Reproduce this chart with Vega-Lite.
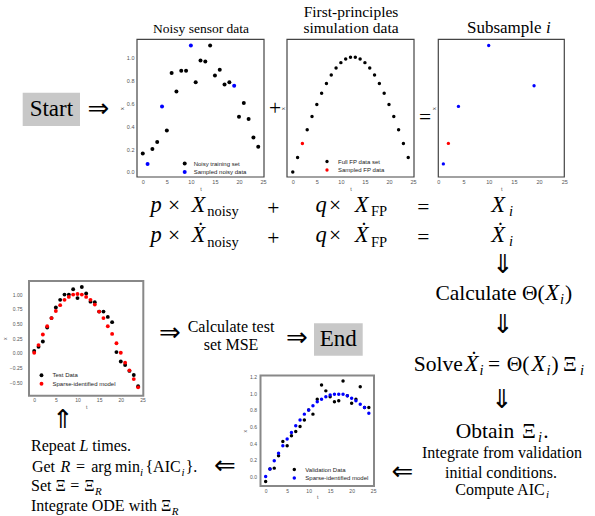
{
  "$schema": "https://vega.github.io/schema/vega-lite/v6.json",
  "width": 595,
  "height": 516,
  "padding": 0,
  "autosize": "none",
  "background": "white",
  "config": {
    "view": {"stroke": null},
    "axis": {"grid": false, "ticks": false, "domain": false, "labelFont": "Liberation Sans", "labelColor": "#555", "titleFont": "Liberation Sans", "titleFontWeight": "normal", "titleColor": "#555", "labelFlush": false, "labelOverlap": false},
    "legend": {"title": null, "labelFont": "Liberation Sans", "labelFontSize": 6, "labelColor": "#222", "symbolType": "circle", "symbolStrokeWidth": 0, "padding": 0, "rowPadding": 2.5, "labelOffset": 6, "orient": "none"}
  },
  "datasets": {
    "noisy": [
      {"t": 0, "x": 0.16, "series": "Noisy training set"},
      {"t": 1, "x": 0.07, "series": "Sampled noisy data"},
      {"t": 2, "x": 0.20, "series": "Noisy training set"},
      {"t": 3, "x": 0.26, "series": "Noisy training set"},
      {"t": 4, "x": 0.57, "series": "Sampled noisy data"},
      {"t": 5, "x": 0.36, "series": "Noisy training set"},
      {"t": 6, "x": 0.86, "series": "Noisy training set"},
      {"t": 7, "x": 0.70, "series": "Noisy training set"},
      {"t": 8, "x": 0.88, "series": "Noisy training set"},
      {"t": 9, "x": 0.88, "series": "Noisy training set"},
      {"t": 10, "x": 1.10, "series": "Sampled noisy data"},
      {"t": 11, "x": 0.78, "series": "Noisy training set"},
      {"t": 12, "x": 0.97, "series": "Noisy training set"},
      {"t": 13, "x": 0.96, "series": "Noisy training set"},
      {"t": 14, "x": 1.10, "series": "Noisy training set"},
      {"t": 15, "x": 0.84, "series": "Noisy training set"},
      {"t": 16, "x": 0.89, "series": "Noisy training set"},
      {"t": 17, "x": 0.76, "series": "Noisy training set"},
      {"t": 18, "x": 0.78, "series": "Noisy training set"},
      {"t": 19, "x": 0.75, "series": "Sampled noisy data"},
      {"t": 20, "x": 0.48, "series": "Noisy training set"},
      {"t": 21, "x": 0.60, "series": "Noisy training set"},
      {"t": 22, "x": 0.46, "series": "Noisy training set"},
      {"t": 23, "x": 0.30, "series": "Noisy training set"},
      {"t": 24, "x": 0.22, "series": "Noisy training set"}
    ],
    "fp": [
      {"t": 0, "x": 0.0, "series": "Full FP data set"},
      {"t": 1, "x": 0.1253, "series": "Full FP data set"},
      {"t": 2, "x": 0.2487, "series": "Sampled FP data"},
      {"t": 3, "x": 0.3681, "series": "Full FP data set"},
      {"t": 4, "x": 0.4818, "series": "Full FP data set"},
      {"t": 5, "x": 0.5878, "series": "Full FP data set"},
      {"t": 6, "x": 0.6845, "series": "Full FP data set"},
      {"t": 7, "x": 0.7705, "series": "Full FP data set"},
      {"t": 8, "x": 0.8443, "series": "Full FP data set"},
      {"t": 9, "x": 0.9048, "series": "Full FP data set"},
      {"t": 10, "x": 0.9511, "series": "Full FP data set"},
      {"t": 11, "x": 0.9823, "series": "Full FP data set"},
      {"t": 12, "x": 0.998, "series": "Full FP data set"},
      {"t": 13, "x": 0.998, "series": "Full FP data set"},
      {"t": 14, "x": 0.9823, "series": "Full FP data set"},
      {"t": 15, "x": 0.9511, "series": "Full FP data set"},
      {"t": 16, "x": 0.9048, "series": "Full FP data set"},
      {"t": 17, "x": 0.8443, "series": "Full FP data set"},
      {"t": 18, "x": 0.7705, "series": "Full FP data set"},
      {"t": 19, "x": 0.6845, "series": "Full FP data set"},
      {"t": 20, "x": 0.5878, "series": "Full FP data set"},
      {"t": 21, "x": 0.4818, "series": "Full FP data set"},
      {"t": 22, "x": 0.3681, "series": "Full FP data set"},
      {"t": 23, "x": 0.2487, "series": "Full FP data set"},
      {"t": 24, "x": 0.1253, "series": "Full FP data set"}
    ],
    "sub": [
      {"t": 1, "x": 0.07, "series": "noisy"},
      {"t": 2, "x": 0.2487, "series": "fp"},
      {"t": 4, "x": 0.57, "series": "noisy"},
      {"t": 10, "x": 1.10, "series": "noisy"},
      {"t": 19, "x": 0.75, "series": "noisy"}
    ],
    "test": [
      {"t": 0, "x": 0.03, "series": "Test Data"},
      {"t": 1, "x": 0.10, "series": "Test Data"},
      {"t": 2, "x": 0.19, "series": "Test Data"},
      {"t": 3, "x": 0.43, "series": "Test Data"},
      {"t": 4, "x": 0.59, "series": "Test Data"},
      {"t": 5, "x": 0.77, "series": "Test Data"},
      {"t": 6, "x": 0.90, "series": "Test Data"},
      {"t": 7, "x": 0.99, "series": "Test Data"},
      {"t": 8, "x": 0.99, "series": "Test Data"},
      {"t": 9, "x": 1.08, "series": "Test Data"},
      {"t": 10, "x": 0.93, "series": "Test Data"},
      {"t": 11, "x": 1.12, "series": "Test Data"},
      {"t": 12, "x": 1.01, "series": "Test Data"},
      {"t": 13, "x": 0.87, "series": "Test Data"},
      {"t": 14, "x": 0.86, "series": "Test Data"},
      {"t": 15, "x": 0.70, "series": "Test Data"},
      {"t": 16, "x": 0.70, "series": "Test Data"},
      {"t": 17, "x": 0.61, "series": "Test Data"},
      {"t": 18, "x": 0.52, "series": "Test Data"},
      {"t": 19, "x": 0.01, "series": "Test Data"},
      {"t": 20, "x": -0.15, "series": "Test Data"},
      {"t": 21, "x": -0.21, "series": "Test Data"},
      {"t": 22, "x": -0.31, "series": "Test Data"},
      {"t": 23, "x": -0.38, "series": "Test Data"},
      {"t": 24, "x": -0.57, "series": "Test Data"},
      {"t": 0, "x": 0.00, "series": "Sparse-identified model"},
      {"t": 1, "x": 0.13, "series": "Sparse-identified model"},
      {"t": 2, "x": 0.31, "series": "Sparse-identified model"},
      {"t": 3, "x": 0.45, "series": "Sparse-identified model"},
      {"t": 4, "x": 0.59, "series": "Sparse-identified model"},
      {"t": 5, "x": 0.71, "series": "Sparse-identified model"},
      {"t": 6, "x": 0.81, "series": "Sparse-identified model"},
      {"t": 7, "x": 0.90, "series": "Sparse-identified model"},
      {"t": 8, "x": 0.95, "series": "Sparse-identified model"},
      {"t": 9, "x": 0.99, "series": "Sparse-identified model"},
      {"t": 10, "x": 1.00, "series": "Sparse-identified model"},
      {"t": 11, "x": 0.99, "series": "Sparse-identified model"},
      {"t": 12, "x": 0.95, "series": "Sparse-identified model"},
      {"t": 13, "x": 0.90, "series": "Sparse-identified model"},
      {"t": 14, "x": 0.82, "series": "Sparse-identified model"},
      {"t": 15, "x": 0.70, "series": "Sparse-identified model"},
      {"t": 16, "x": 0.59, "series": "Sparse-identified model"},
      {"t": 17, "x": 0.45, "series": "Sparse-identified model"},
      {"t": 18, "x": 0.32, "series": "Sparse-identified model"},
      {"t": 19, "x": 0.16, "series": "Sparse-identified model"},
      {"t": 20, "x": 0.00, "series": "Sparse-identified model"},
      {"t": 21, "x": -0.17, "series": "Sparse-identified model"},
      {"t": 22, "x": -0.30, "series": "Sparse-identified model"},
      {"t": 23, "x": -0.45, "series": "Sparse-identified model"},
      {"t": 24, "x": -0.59, "series": "Sparse-identified model"}
    ],
    "validation": [
      {"t": 0, "x": -0.06, "series": "Validation Data"},
      {"t": 1, "x": 0.09, "series": "Validation Data"},
      {"t": 2, "x": 0.10, "series": "Validation Data"},
      {"t": 3, "x": 0.25, "series": "Validation Data"},
      {"t": 4, "x": 0.42, "series": "Validation Data"},
      {"t": 5, "x": 0.37, "series": "Validation Data"},
      {"t": 6, "x": 0.49, "series": "Validation Data"},
      {"t": 7, "x": 0.54, "series": "Validation Data"},
      {"t": 8, "x": 0.60, "series": "Validation Data"},
      {"t": 9, "x": 0.68, "series": "Validation Data"},
      {"t": 10, "x": 0.80, "series": "Validation Data"},
      {"t": 11, "x": 0.75, "series": "Validation Data"},
      {"t": 12, "x": 0.93, "series": "Validation Data"},
      {"t": 13, "x": 1.10, "series": "Validation Data"},
      {"t": 14, "x": 1.03, "series": "Validation Data"},
      {"t": 15, "x": 0.96, "series": "Validation Data"},
      {"t": 16, "x": 0.90, "series": "Validation Data"},
      {"t": 17, "x": 0.91, "series": "Validation Data"},
      {"t": 18, "x": 1.15, "series": "Validation Data"},
      {"t": 19, "x": 0.97, "series": "Validation Data"},
      {"t": 20, "x": 0.88, "series": "Validation Data"},
      {"t": 21, "x": 0.93, "series": "Validation Data"},
      {"t": 22, "x": 1.08, "series": "Validation Data"},
      {"t": 23, "x": 0.83, "series": "Validation Data"},
      {"t": 24, "x": 0.83, "series": "Validation Data"},
      {"t": 0, "x": 0.00, "series": "Sparse-identified model"},
      {"t": 1, "x": 0.09, "series": "Sparse-identified model"},
      {"t": 2, "x": 0.19, "series": "Sparse-identified model"},
      {"t": 3, "x": 0.28, "series": "Sparse-identified model"},
      {"t": 4, "x": 0.37, "series": "Sparse-identified model"},
      {"t": 5, "x": 0.45, "series": "Sparse-identified model"},
      {"t": 6, "x": 0.53, "series": "Sparse-identified model"},
      {"t": 7, "x": 0.61, "series": "Sparse-identified model"},
      {"t": 8, "x": 0.68, "series": "Sparse-identified model"},
      {"t": 9, "x": 0.75, "series": "Sparse-identified model"},
      {"t": 10, "x": 0.80, "series": "Sparse-identified model"},
      {"t": 11, "x": 0.85, "series": "Sparse-identified model"},
      {"t": 12, "x": 0.90, "series": "Sparse-identified model"},
      {"t": 13, "x": 0.93, "series": "Sparse-identified model"},
      {"t": 14, "x": 0.96, "series": "Sparse-identified model"},
      {"t": 15, "x": 0.98, "series": "Sparse-identified model"},
      {"t": 16, "x": 0.99, "series": "Sparse-identified model"},
      {"t": 17, "x": 0.99, "series": "Sparse-identified model"},
      {"t": 18, "x": 0.99, "series": "Sparse-identified model"},
      {"t": 19, "x": 0.97, "series": "Sparse-identified model"},
      {"t": 20, "x": 0.94, "series": "Sparse-identified model"},
      {"t": 21, "x": 0.91, "series": "Sparse-identified model"},
      {"t": 22, "x": 0.87, "series": "Sparse-identified model"},
      {"t": 23, "x": 0.83, "series": "Sparse-identified model"},
      {"t": 24, "x": 0.76, "series": "Sparse-identified model"}
    ],
    "boxes": [
      {"label": "Start", "x": 22.7, "x2": 80, "y": 92.7, "y2": 126},
      {"label": "End", "x": 314, "x2": 362.7, "y": 323.3, "y2": 355.7}
    ],
    "labels": [
      {"text": "Start", "x": 51.4, "y": 115.5, "style": "box"},
      {"text": "End", "x": 338.3, "y": 345.5, "style": "box"},
      {"text": "Noisy sensor data", "x": 201, "y": 32.5, "style": "t1"},
      {"text": "First-principles", "x": 351, "y": 16.5, "style": "t2"},
      {"text": "simulation data", "x": 351, "y": 32.5, "style": "t2"},
      {"text": "Subsample", "x": 504.3, "y": 32.5, "style": "t3"},
      {"text": "i", "x": 548.3, "y": 32.5, "style": "t3i"},
      {"text": "+", "x": 275, "y": 115.3, "style": "m"},
      {"text": "=", "x": 425, "y": 123.6, "style": "m"},
      {"text": "p", "x": 156, "y": 212, "style": "mi"},
      {"text": "×", "x": 174, "y": 212, "style": "m"},
      {"text": "X", "x": 198.3, "y": 212, "style": "mi"},
      {"text": "noisy", "x": 223, "y": 216, "style": "s"},
      {"text": "+", "x": 273.3, "y": 215, "style": "m"},
      {"text": "q", "x": 321, "y": 212, "style": "mi"},
      {"text": "×", "x": 335, "y": 212, "style": "m"},
      {"text": "X", "x": 361.7, "y": 212, "style": "mi"},
      {"text": "FP", "x": 379, "y": 216, "style": "s"},
      {"text": "=", "x": 423.3, "y": 213.6, "style": "m"},
      {"text": "X", "x": 498, "y": 212, "style": "mi"},
      {"text": "i", "x": 511, "y": 216, "style": "si"},
      {"text": "p", "x": 156, "y": 242.3, "style": "mi"},
      {"text": "×", "x": 174, "y": 242.3, "style": "m"},
      {"text": "Ẋ", "x": 198.3, "y": 242.3, "style": "mi"},
      {"text": "noisy", "x": 223, "y": 246.5, "style": "s"},
      {"text": "+", "x": 273.3, "y": 245.3, "style": "m"},
      {"text": "q", "x": 321, "y": 242.3, "style": "mi"},
      {"text": "×", "x": 335, "y": 242.3, "style": "m"},
      {"text": "Ẋ", "x": 361.7, "y": 242.3, "style": "mi"},
      {"text": "FP", "x": 379, "y": 246.5, "style": "s"},
      {"text": "=", "x": 423.3, "y": 243.6, "style": "m"},
      {"text": "Ẋ", "x": 498, "y": 242.3, "style": "mi"},
      {"text": "i", "x": 511, "y": 246, "style": "si"},
      {"text": "Calculate Θ(", "x": 490, "y": 300, "style": "m"},
      {"text": "X", "x": 552, "y": 300, "style": "mi"},
      {"text": "i", "x": 562, "y": 304, "style": "si"},
      {"text": ")", "x": 568.5, "y": 300, "style": "m"},
      {"text": "Solve", "x": 438.3, "y": 370.7, "style": "m"},
      {"text": "Ẋ", "x": 471.7, "y": 370.7, "style": "mi"},
      {"text": "i", "x": 481.5, "y": 374.7, "style": "si"},
      {"text": "=", "x": 494, "y": 371, "style": "m"},
      {"text": "Θ(", "x": 518, "y": 370.7, "style": "m"},
      {"text": "X", "x": 538.3, "y": 370.7, "style": "mi"},
      {"text": "i", "x": 548.5, "y": 374.7, "style": "si"},
      {"text": ")", "x": 555, "y": 370.7, "style": "m"},
      {"text": "Ξ", "x": 570, "y": 370.7, "style": "m"},
      {"text": "i", "x": 582, "y": 374.7, "style": "si"},
      {"text": "Obtain", "x": 485, "y": 438.3, "style": "m"},
      {"text": "Ξ", "x": 529, "y": 438.3, "style": "m"},
      {"text": "i", "x": 540, "y": 442.3, "style": "si"},
      {"text": ".", "x": 546, "y": 438.3, "style": "m"},
      {"text": "Integrate from validation", "x": 502, "y": 458.3, "style": "d"},
      {"text": "initial conditions.", "x": 501, "y": 477.7, "style": "d"},
      {"text": "Compute AIC", "x": 500, "y": 495, "style": "d"},
      {"text": "i", "x": 547.5, "y": 498, "style": "dsi"},
      {"text": "Calculate test", "x": 231, "y": 331.7, "style": "d"},
      {"text": "set MSE", "x": 231, "y": 350, "style": "d"},
      {"text": "Repeat", "x": 53.2, "y": 451, "style": "d"},
      {"text": "L", "x": 83.9, "y": 451, "style": "di"},
      {"text": "times.", "x": 111.7, "y": 451, "style": "d"},
      {"text": "Get", "x": 43.5, "y": 472, "style": "d"},
      {"text": "R", "x": 65.5, "y": 472, "style": "di"},
      {"text": "=", "x": 80.5, "y": 472, "style": "d"},
      {"text": "arg", "x": 101.3, "y": 472, "style": "d"},
      {"text": "min", "x": 127.5, "y": 472, "style": "d"},
      {"text": "i", "x": 141.5, "y": 475.5, "style": "dsi"},
      {"text": "{AIC", "x": 163, "y": 472, "style": "d"},
      {"text": "i", "x": 183, "y": 475.5, "style": "dsi"},
      {"text": "}.", "x": 191.5, "y": 472, "style": "d"},
      {"text": "Set", "x": 41.2, "y": 491, "style": "d"},
      {"text": "Ξ", "x": 60.6, "y": 491, "style": "d"},
      {"text": "=", "x": 74.8, "y": 491, "style": "d"},
      {"text": "Ξ", "x": 89.5, "y": 491, "style": "d"},
      {"text": "R", "x": 98.4, "y": 494.5, "style": "dsi"},
      {"text": "Integrate ODE with", "x": 94, "y": 511, "style": "d"},
      {"text": "Ξ", "x": 166.2, "y": 511, "style": "d"},
      {"text": "R", "x": 175, "y": 514.5, "style": "dsi"},
      {"text": "⇒", "x": 98.5, "y": 109, "style": "arrow"},
      {"text": "⇒", "x": 170, "y": 333, "style": "arrow"},
      {"text": "⇒", "x": 297, "y": 338, "style": "arrow"},
      {"text": "⇓", "x": 503, "y": 264.5, "style": "arrow"},
      {"text": "⇓", "x": 503, "y": 325, "style": "arrow"},
      {"text": "⇓", "x": 502, "y": 400, "style": "arrow"},
      {"text": "⇐", "x": 402.5, "y": 471.7, "style": "arrow"},
      {"text": "⇐", "x": 225, "y": 466, "style": "arrow"},
      {"text": "⇑", "x": 63, "y": 420, "style": "arrow"}
    ]
  },
  "layer": [
    {
      "data": {"name": "labels"},
      "encoding": {
        "x": {"field": "x", "type": "quantitative", "scale": {"domain": [0, 595], "range": [0, 595], "nice": false, "zero": false}, "axis": null},
        "y": {"field": "y", "type": "quantitative", "scale": {"domain": [0, 516], "range": [0, 516], "nice": false, "zero": false}, "axis": null}
      },
      "layer": [
        {"data": {"name": "boxes"}, "mark": {"type": "rect", "fill": "#c8c8c8"}, "encoding": {"x2": {"field": "x2"}, "y2": {"field": "y2"}}},
        {"transform": [{"filter": "datum.style === 'box'"}], "mark": {"type": "text", "font": "Liberation Serif", "fontSize": 23, "align": "center", "baseline": "alphabetic", "color": "#000"}, "encoding": {"text": {"field": "text"}}},
        {"transform": [{"filter": "datum.style === 't1'"}], "mark": {"type": "text", "font": "Liberation Serif", "fontSize": 13.5, "align": "center", "baseline": "alphabetic", "color": "#000"}, "encoding": {"text": {"field": "text"}}},
        {"transform": [{"filter": "datum.style === 't2'"}], "mark": {"type": "text", "font": "Liberation Serif", "fontSize": 15.5, "align": "center", "baseline": "alphabetic", "color": "#000"}, "encoding": {"text": {"field": "text"}}},
        {"transform": [{"filter": "datum.style === 't3'"}], "mark": {"type": "text", "font": "Liberation Serif", "fontSize": 17, "align": "center", "baseline": "alphabetic", "color": "#000"}, "encoding": {"text": {"field": "text"}}},
        {"transform": [{"filter": "datum.style === 't3i'"}], "mark": {"type": "text", "font": "Liberation Serif", "fontSize": 17, "fontStyle": "italic", "align": "center", "baseline": "alphabetic", "color": "#000"}, "encoding": {"text": {"field": "text"}}},
        {"transform": [{"filter": "datum.style === 'm'"}], "mark": {"type": "text", "font": "Liberation Serif", "fontSize": 21.5, "align": "center", "baseline": "alphabetic", "color": "#000"}, "encoding": {"text": {"field": "text"}}},
        {"transform": [{"filter": "datum.style === 'mi'"}], "mark": {"type": "text", "font": "Liberation Serif", "fontSize": 22.5, "fontStyle": "italic", "align": "center", "baseline": "alphabetic", "color": "#000"}, "encoding": {"text": {"field": "text"}}},
        {"transform": [{"filter": "datum.style === 's'"}], "mark": {"type": "text", "font": "Liberation Serif", "fontSize": 14.5, "align": "center", "baseline": "alphabetic", "color": "#000"}, "encoding": {"text": {"field": "text"}}},
        {"transform": [{"filter": "datum.style === 'si'"}], "mark": {"type": "text", "font": "Liberation Serif", "fontSize": 14.5, "fontStyle": "italic", "align": "center", "baseline": "alphabetic", "color": "#000"}, "encoding": {"text": {"field": "text"}}},
        {"transform": [{"filter": "datum.style === 'd'"}], "mark": {"type": "text", "font": "Liberation Serif", "fontSize": 16, "align": "center", "baseline": "alphabetic", "color": "#000"}, "encoding": {"text": {"field": "text"}}},
        {"transform": [{"filter": "datum.style === 'di'"}], "mark": {"type": "text", "font": "Liberation Serif", "fontSize": 16, "fontStyle": "italic", "align": "center", "baseline": "alphabetic", "color": "#000"}, "encoding": {"text": {"field": "text"}}},
        {"transform": [{"filter": "datum.style === 'dsi'"}], "mark": {"type": "text", "font": "Liberation Serif", "fontSize": 11, "fontStyle": "italic", "align": "center", "baseline": "alphabetic", "color": "#000"}, "encoding": {"text": {"field": "text"}}},
        {"transform": [{"filter": "datum.style === 'arrow'"}], "mark": {"type": "text", "font": "DejaVu Sans", "fontSize": 26, "align": "center", "baseline": "middle", "color": "#000"}, "encoding": {"text": {"field": "text"}}}
      ]
    },
    {
      "data": {"name": "noisy"},
      "layer": [
        {"mark": {"type": "circle", "size": 16, "opacity": 1},
         "encoding": {
           "x": {"field": "t", "type": "quantitative", "scale": {"domain": [-1.2, 25.2], "range": [137, 264], "nice": false, "zero": false}, "axis": {"orient": "bottom", "offset": -339, "values": [0, 5, 10, 15, 20, 25], "labelFontSize": 5.5, "labelPadding": 2, "title": "t", "titleColor": "#555", "titleFontSize": 5.5, "titlePadding": 1.5}},
           "y": {"field": "x", "type": "quantitative", "scale": {"domain": [-0.0435, 1.154], "range": [177, 39.3], "nice": false, "zero": false}, "axis": {"orient": "left", "offset": -137, "values": [0, 0.2, 0.4, 0.6, 0.8, 1.0], "format": ".1f", "labelFontSize": 5.5, "labelPadding": 3, "title": "x", "titleColor": "#555", "titleFontSize": 5.5, "titlePadding": 2}},
           "color": {"field": "series", "type": "nominal", "scale": {"domain": ["Noisy training set", "Sampled noisy data"], "range": ["#000000", "#0000ff"]}, "legend": {"legendX": 181.7, "legendY": 160.5, "symbolSize": 16, "labelOffset": 6}}
         }},
        {"data": {"values": [{}]}, "mark": {"type": "rect", "fillOpacity": 0, "stroke": "#444", "strokeWidth": 1.2},
         "encoding": {"x": {"datum": -1.2, "type": "quantitative"}, "x2": {"datum": 25.2}, "y": {"datum": -0.0435, "type": "quantitative"}, "y2": {"datum": 1.154}}}
      ]
    },
    {
      "data": {"name": "fp"},
      "layer": [
        {"mark": {"type": "circle", "size": 12, "opacity": 1},
         "encoding": {
           "x": {"field": "t", "type": "quantitative", "scale": {"domain": [-1.2, 25.2], "range": [287, 414], "nice": false, "zero": false}, "axis": {"orient": "bottom", "offset": -339, "values": [0, 5, 10, 15, 20, 25], "labelFontSize": 5.5, "labelPadding": 2, "title": "t", "titleColor": "#555", "titleFontSize": 5.5, "titlePadding": 1.5}},
           "y": {"field": "x", "type": "quantitative", "scale": {"domain": [-0.0435, 1.154], "range": [177, 39.3], "nice": false, "zero": false}, "axis": {"orient": "left", "offset": -287, "labels": false, "title": "x", "titleColor": "#555", "titleFontSize": 5.5, "titlePadding": 2}},
           "color": {"field": "series", "type": "nominal", "scale": {"domain": ["Full FP data set", "Sampled FP data"], "range": ["#000000", "#ff0000"]}, "legend": {"legendX": 324, "legendY": 158.5, "symbolSize": 11, "labelOffset": 8}}
         }},
        {"data": {"values": [{}]}, "mark": {"type": "rect", "fillOpacity": 0, "stroke": "#444", "strokeWidth": 1.2},
         "encoding": {"x": {"datum": -1.2, "type": "quantitative"}, "x2": {"datum": 25.2}, "y": {"datum": -0.0435, "type": "quantitative"}, "y2": {"datum": 1.154}}}
      ]
    },
    {
      "data": {"name": "sub"},
      "layer": [
        {"mark": {"type": "circle", "size": 11, "opacity": 1},
         "encoding": {
           "x": {"field": "t", "type": "quantitative", "scale": {"domain": [0, 25], "range": [438.3, 564.3], "nice": false, "zero": false}, "axis": {"orient": "bottom", "offset": -339, "values": [0, 5, 10, 15, 20, 25], "labelFontSize": 5.5, "labelPadding": 2, "title": "t", "titleColor": "#555", "titleFontSize": 5.5, "titlePadding": 1.5}},
           "y": {"field": "x", "type": "quantitative", "scale": {"domain": [-0.0435, 1.154], "range": [177, 39.3], "nice": false, "zero": false}, "axis": {"orient": "left", "offset": -438.3, "labels": false, "title": "x", "titleColor": "#555", "titleFontSize": 5.5, "titlePadding": 2}},
           "color": {"field": "series", "type": "nominal", "scale": {"domain": ["noisy", "fp"], "range": ["#0000ff", "#ff0000"]}, "legend": null}
         }},
        {"data": {"values": [{}]}, "mark": {"type": "rect", "fillOpacity": 0, "stroke": "#444", "strokeWidth": 1.2},
         "encoding": {"x": {"datum": 0, "type": "quantitative"}, "x2": {"datum": 25}, "y": {"datum": -0.0435, "type": "quantitative"}, "y2": {"datum": 1.154}}}
      ]
    },
    {
      "data": {"name": "test"},
      "layer": [
        {"mark": {"type": "circle", "size": 15, "opacity": 1},
         "encoding": {
           "x": {"field": "t", "type": "quantitative", "scale": {"domain": [-1.2, 25.2], "range": [29, 143.3], "nice": false, "zero": false}, "axis": {"orient": "bottom", "offset": -120.3, "values": [0, 5, 10, 15, 20, 25], "labelFontSize": 5, "labelPadding": 2, "title": "t", "titleColor": "#555", "titleFontSize": 5, "titlePadding": 1.5}},
           "y": {"field": "x", "type": "quantitative", "scale": {"domain": [-0.7325, 1.2215], "range": [395.7, 281], "nice": false, "zero": false}, "axis": {"orient": "left", "offset": -29, "values": [-0.5, -0.25, 0, 0.25, 0.5, 0.75, 1.0], "format": ".2f", "labelFontSize": 5, "labelPadding": 7, "title": "x", "titleColor": "#555", "titleFontSize": 5, "titlePadding": 2}},
           "color": {"field": "series", "type": "nominal", "scale": {"domain": ["Test Data", "Sparse-identified model"], "range": ["#000000", "#ff0000"]}, "legend": {"legendX": 38.5, "legendY": 372.3, "symbolSize": 15, "labelOffset": 8}}
         }},
        {"data": {"values": [{}]}, "mark": {"type": "rect", "fillOpacity": 0, "stroke": "#888", "strokeWidth": 2},
         "encoding": {"x": {"datum": -1.2, "type": "quantitative"}, "x2": {"datum": 25.2}, "y": {"datum": -0.7325, "type": "quantitative"}, "y2": {"datum": 1.2215}}}
      ]
    },
    {
      "data": {"name": "validation"},
      "layer": [
        {"mark": {"type": "circle", "size": 12, "opacity": 1},
         "encoding": {
           "x": {"field": "t", "type": "quantitative", "scale": {"domain": [-1.2, 25.2], "range": [260.5, 374], "nice": false, "zero": false}, "axis": {"orient": "bottom", "offset": -30, "values": [0, 5, 10, 15, 20, 25], "labelFontSize": 5, "labelPadding": 2, "title": "t", "titleColor": "#555", "titleFontSize": 5, "titlePadding": 1.5}},
           "y": {"field": "x", "type": "quantitative", "scale": {"domain": [-0.115, 1.215], "range": [486, 375.5], "nice": false, "zero": false}, "axis": {"orient": "left", "offset": -260.5, "values": [0, 0.2, 0.4, 0.6, 0.8, 1.0, 1.2], "format": ".1f", "labelFontSize": 5, "labelPadding": 4, "title": "x", "titleColor": "#555", "titleFontSize": 5, "titlePadding": 2}},
           "color": {"field": "series", "type": "nominal", "scale": {"domain": ["Validation Data", "Sparse-identified model"], "range": ["#000000", "#0000ff"]}, "legend": {"legendX": 291.3, "legendY": 466.5, "symbolSize": 12, "labelOffset": 8}}
         }},
        {"data": {"values": [{}]}, "mark": {"type": "rect", "fillOpacity": 0, "stroke": "#888", "strokeWidth": 2},
         "encoding": {"x": {"datum": -1.2, "type": "quantitative"}, "x2": {"datum": 25.2}, "y": {"datum": -0.115, "type": "quantitative"}, "y2": {"datum": 1.215}}}
      ]
    }
  ],
  "resolve": {
    "scale": {"x": "independent", "y": "independent", "color": "independent"},
    "axis": {"x": "independent", "y": "independent"},
    "legend": {"color": "independent"}
  }
}
